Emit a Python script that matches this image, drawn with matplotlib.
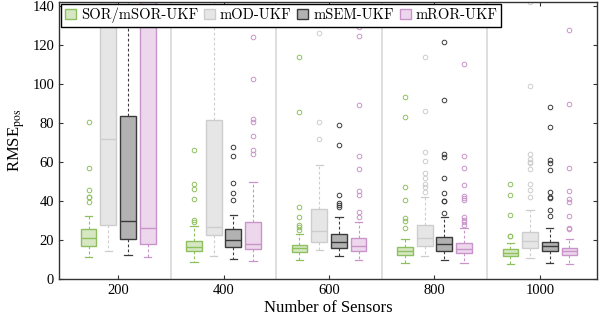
import matplotlib
matplotlib.use("Agg")
import matplotlib.pyplot as plt
from matplotlib.patches import Patch

plt.rcParams['font.family'] = 'Liberation Serif'
plt.rcParams['mathtext.fontset'] = 'stix'

sensors = [200, 400, 600, 800, 1000]
labels = ["SOR/mSOR-UKF", "mOD-UKF", "mSEM-UKF", "mROR-UKF"]

# box stats per sensor count: (q1, median, q3, whisker low, whisker high)
sor_box = [(16.9, 21.0, 25.6, 11.4, 32.6),
           (14.4, 16.4, 19.6, 8.7, 27.2),
           (13.8, 15.9, 17.6, 9.9, 23.2),
           (12.3, 14.5, 16.4, 8.4, 20.5),
           (11.8, 13.6, 15.5, 7.8, 18.6)]
sor_out = [[80.8, 56.9, 45.6, 42.4, 42.0, 39.5],
           [66.5, 48.9, 46.2, 41.2, 30.4, 29.4],
           [113.8, 85.8, 36.9, 32.1, 27.8, 27.0, 25.3],
           [93.6, 83.1, 47.3, 40.8, 31.3, 29.9, 26.2],
           [48.7, 43.2, 33.1, 22.4, 22.0]]

od_box = [(27.7, 71.8, 165.0, 14.5, 260.0),
          (22.6, 26.8, 81.5, 11.8, 180.0),
          (19.1, 24.8, 35.9, 15.0, 58.8),
          (16.9, 21.3, 28.0, 11.9, 42.4),
          (16.2, 19.5, 24.1, 10.8, 35.4)]
od_out = [[],
          [],
          [126.0, 80.7, 71.8],
          [114.0, 86.2, 65.1, 60.5, 54.5, 51.7, 48.9, 47.2, 44.8],
          [142.0, 99.3, 64.4, 61.8, 60.0, 59.5, 56.6, 48.7, 45.8, 42.2]]

sem_box = [(20.5, 29.9, 83.9, 12.3, 230.0),
           (16.6, 20.2, 25.9, 10.3, 33.1),
           (16.1, 19.0, 23.1, 11.9, 31.8),
           (14.5, 17.9, 21.5, 9.9, 31.8),
           (14.7, 17.1, 19.3, 8.2, 26.2)]
sem_out = [[],
           [68.0, 63.4, 49.2, 44.1, 40.8],
           [79.3, 68.9, 43.4, 39.1, 38.3, 37.2],
           [121.8, 92.1, 64.3, 62.9, 51.9, 44.3, 40.3, 40.0, 33.8],
           [88.4, 78.1, 61.3, 59.8, 56.2, 44.6, 42.1, 41.8, 35.5, 32.6]]

ror_box = [(17.9, 26.2, 160.0, 11.4, 250.0),
           (15.4, 17.9, 29.4, 9.2, 49.7),
           (14.4, 16.9, 21.0, 9.9, 29.4),
           (13.3, 15.7, 18.5, 8.2, 26.3),
           (12.5, 14.5, 16.1, 7.7, 20.5)]
ror_out = [[],
           [124.3, 102.7, 82.1, 80.8, 73.6, 66.2, 64.3],
           [129.4, 124.6, 89.4, 63.2, 56.4, 45.4, 43.2, 34.7, 31.9],
           [110.6, 63.4, 57.2, 48.4, 42.9, 41.8, 40.7, 31.8, 30.4, 29.5, 27.8],
           [128.0, 90.1, 56.9, 45.1, 41.0, 39.6, 32.5, 26.3, 25.8]]

faces = ["#d7e7c4", "#e6e6e6", "#b2b2b2", "#ecd7ec"]
edges = ["#8fc060", "#cdcdcd", "#3a3a3a", "#c994c9"]
offsets = [-0.28, -0.093, 0.093, 0.28]


def make_stats(boxes, outs):
    stats = []
    for (q1, med, q3, lo, hi), fl in zip(boxes, outs):
        stats.append(dict(q1=q1, med=med, q3=q3, whislo=lo, whishi=hi, fliers=fl))
    return stats


fig = plt.figure(figsize=(5.99, 3.26), dpi=100)
ax = fig.add_axes([0.0985, 0.1433, 0.898, 0.8515])

groups = [(sor_box, sor_out), (od_box, od_out), (sem_box, sem_out), (ror_box, ror_out)]
for k, (boxes, outs) in enumerate(groups):
    pos = [i + 1 + offsets[k] for i in range(len(sensors))]
    ax.bxp(make_stats(boxes, outs), positions=pos, widths=0.15, patch_artist=True,
           boxprops=dict(facecolor=faces[k], edgecolor=edges[k], linewidth=1.0),
           medianprops=dict(color=edges[k], linewidth=1.0),
           whiskerprops=dict(color=edges[k], linewidth=0.8, linestyle=(0, (2.5, 2))),
           capprops=dict(color=edges[k], linewidth=0.9),
           flierprops=dict(marker='o', markersize=3.3, markerfacecolor='none',
                           markeredgecolor=edges[k], markeredgewidth=0.7),
           capwidths=0.07)

# light separators between sensor groups
for x in [1.5, 2.5, 3.5, 4.5]:
    ax.axvline(x, color="#d9d9d9", linewidth=1.2, zorder=0)

ax.set_xlim(0.44, 5.54)
ax.set_ylim(0, 142.3)
ax.set_xticks(range(1, 6))
ax.set_xticklabels([str(s) for s in sensors])
ax.set_yticks(range(0, 141, 20))
ax.tick_params(direction='in', top=True, right=True, length=3, labelsize=10.5, color='#333333')
for sp in ax.spines.values():
    sp.set_color('#333333')
    sp.set_linewidth(1.0)

ax.set_xlabel("Number of Sensors", fontsize=12, labelpad=2)
ax.set_ylabel(r"RMSE$_{\mathrm{pos}}$", fontsize=12, labelpad=4)

handles = [Patch(facecolor=faces[k], edgecolor=edges[k]) for k in range(4)]
ax.legend(handles, labels, loc='upper left', ncol=4, prop=dict(family='cmr10', size=10.5),
          frameon=True, fancybox=False, edgecolor='black', framealpha=1,
          handlelength=0.75, handleheight=0.75, handletextpad=0.35, columnspacing=0.4,
          borderpad=0.25, borderaxespad=0.15)

fig.savefig("out.png", dpi=100)
